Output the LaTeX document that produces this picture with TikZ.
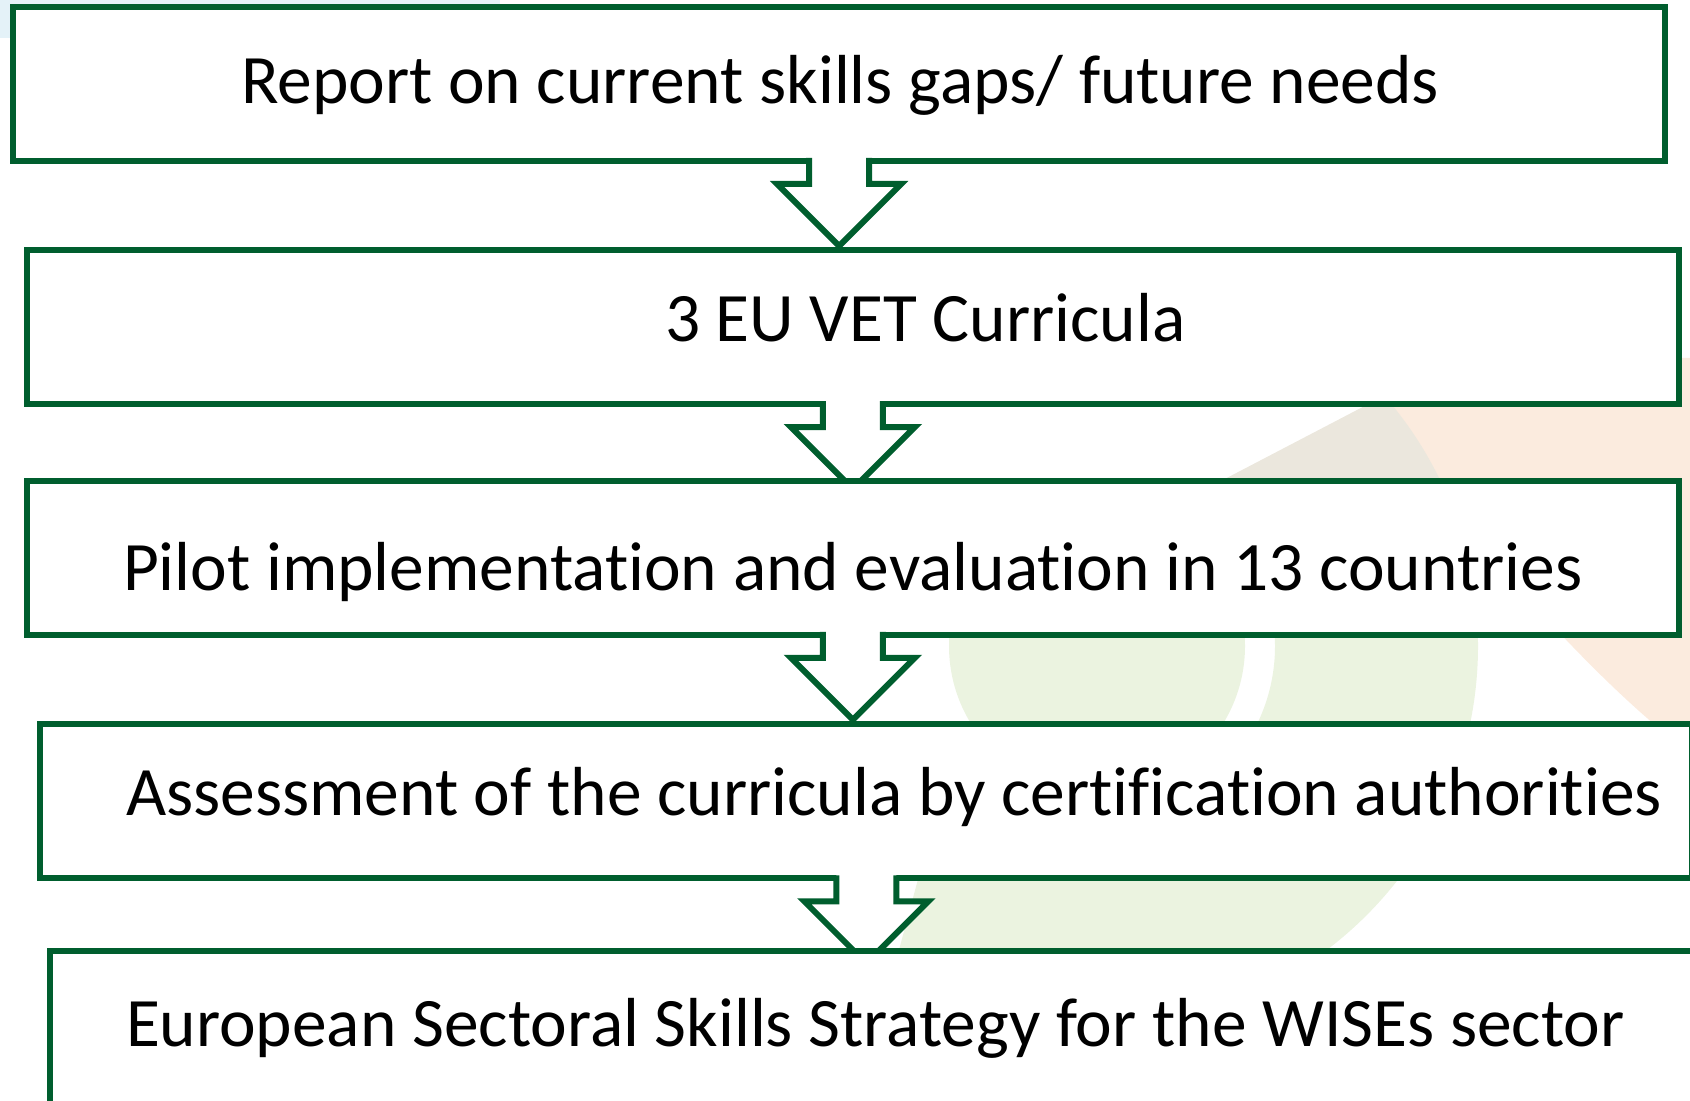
\documentclass[tikz,border=0pt]{standalone}
\usepackage{fontspec}
\setmainfont[Ligatures={NoCommon}]{Carlito}
\usetikzlibrary{calc}
\definecolor{boxgreen}{RGB}{0,94,46}
\definecolor{peach}{RGB}{251,235,222}
\definecolor{beige}{RGB}{235,231,221}
\definecolor{lightgreen}{RGB}{235,243,224}
\definecolor{lightblue}{RGB}{228,242,248}
\tikzset{
  stepbox/.style={draw=boxgreen, line width=3pt, fill=white, minimum width=826pt,
    minimum height=77pt, inner sep=0pt, outer sep=0pt},
  steptext/.style={anchor=base west, inner sep=0pt, outer sep=0pt,
    font=\fontsize{34.7pt}{42pt}\selectfont},
  flowarrow/.style={draw=boxgreen, line width=3pt, miter limit=10},
}
\newcommand\blockarrow[1]{%
  \fill[white] ($(#1.south)+(-30,-4)$) -- ++(0,27) -- ++(-32,0) -- ++(62,62)
    -- ++(62,-62) -- ++(-32,0) -- ++(0,-27) -- cycle;
  \draw[flowarrow] ($(#1.south)+(-30,-3)$) -- ++(0,26) -- ++(-32,0) -- ++(62,62)
    -- ++(62,-62) -- ++(-32,0) -- ++(0,-26);
}
\begin{document}
\begin{tikzpicture}[x=0.5pt,y=-0.5pt]
\useasboundingbox (0,0) rectangle (1690,1101);
\clip (0,0) rectangle (1690,1101);
% background decoration
\fill[lightblue] (0,0) rectangle (500,38);
\fill[peach] (1330,358) .. controls (1470,540) and (1600,690) .. (1700,760)
  -- (1700,358) -- cycle;
\begin{scope}
  \clip (993,600) -- (1809,174) -- (2100,174) -- (2100,1200) -- (849,1136) -- cycle;
  \begin{scope}
    \clip (0,0) rectangle (2100,560);
    \fill[beige, even odd rule] (1097,646) circle[radius=381] (1097,646) circle[radius=178];
  \end{scope}
  \begin{scope}
    \clip (0,560) rectangle (2100,1200);
    \fill[lightgreen, even odd rule] (1097,646) circle[radius=381] (1097,646) circle[radius=178];
  \end{scope}
\end{scope}
\fill[lightgreen] (1097,646) circle[radius=148];
% boxes and arrows
\node[stepbox] (b1) at (839,84) {};
\node[steptext] (t1) at (241,104) {Report on current skills gaps/ future needs};
\blockarrow{b1}
\node[stepbox] (b2) at (852.75,327) {};
\node[steptext] (t2) at (665,342) {3 EU VET Curricula};
\blockarrow{b2}
\node[stepbox] (b3) at (852.75,557.75) {};
\node[steptext] (t3) at (123,590) {Pilot implementation and evaluation in 13 countries};
\blockarrow{b3}
\node[stepbox] (b4) at (866.25,801.25) {};
\node[steptext] (t4) at (126,815) {Assessment of the curricula by certification authorities};
\blockarrow{b4}
\node[stepbox] (b5) at (875.5,1028) {};
\node[steptext] (t5) at (126,1046) {European Sectoral Skills Strategy for the WISEs sector};
\end{tikzpicture}
\end{document}
